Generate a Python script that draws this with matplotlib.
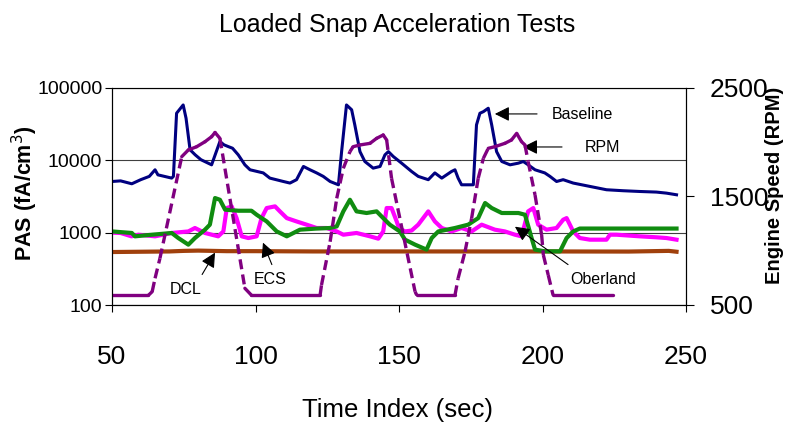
import matplotlib
matplotlib.use('Agg')
import matplotlib.pyplot as plt
from matplotlib import font_manager

# values
base_t = [50, 53, 56.9, 60, 63, 65, 66, 70.8, 71.4, 72.5, 74.8, 75.8, 77.2, 79, 81, 84.7,
          87.6, 89, 90.5, 92, 94, 96.3, 98.1, 102.7, 105, 109.7, 112, 114.3, 116.7, 119,
          121.3, 123.6, 126, 128.9, 130, 131.7, 133.5, 134.6, 136.4, 138.1, 141, 143.4,
          145.1, 146.3, 148, 150.9, 154.4, 156.7, 160.2, 162.5, 164.9, 168.3, 169.5, 170.6,
          171.8, 175.9, 177, 178.2, 179.4, 181.1, 182.3, 184, 185.8, 188.7, 191.6, 193.3,
          195, 197.4, 200.8, 202.6, 204.9, 207.2, 210.7, 216.5, 222.3, 228.1, 233.9, 239.7,
          243.2, 246.7]
base_pas = [5100, 5200, 4740, 5400, 6000, 7400, 6300, 5680, 6000, 44800, 58300, 38200, 14000,
            11900, 10200, 8670, 18200, 16400, 15500, 14700, 11900, 8670, 7400, 6700, 5680,
            5100, 4850, 5400, 8230, 7400, 6700, 6000, 5100, 4590, 13200, 58300, 50000, 30900,
            13200, 9640, 7800, 8230, 11900, 13200, 11300, 9140, 7010, 6000, 5400, 6700, 5680,
            7010, 7400, 5680, 4590, 4590, 30900, 44800, 47100, 52500, 30900, 13200, 9640,
            8670, 9140, 9640, 8670, 7400, 6700, 6000, 5100, 5400, 4850, 4360, 3920, 3800,
            3710, 3640, 3520, 3340]

ecs_t = [50, 53, 56.8, 59.2, 65, 70.8, 76.6, 78.9, 82.4, 87, 88.8, 90, 91.7, 93.4, 95.2,
         97.5, 100.4, 102.1, 103.9, 106.8, 108.5, 110.9, 114.3, 117.8, 121.3, 124.8, 128.3,
         130.6, 135.2, 139.9, 142.8, 144.5, 145.7, 147.4, 149.2, 150, 152.1, 154.4, 156.7,
         160.2, 162.5, 164.9, 168.3, 171.8, 175.3, 178.8, 183.4, 186.9, 190.4, 192.7, 195,
         196.8, 198.5, 201.4, 204.9, 207.2, 208.4, 210.7, 213, 216.5, 222.3, 223.5, 225.8,
         233.9, 239.7, 243.2, 246.7]
ecs_pas = [1000, 990, 890, 937, 890, 990, 1040, 1160, 990, 890, 1040, 2190, 2310, 1590, 890,
           843, 890, 1590, 2190, 2310, 1970, 1590, 1430, 1290, 1160, 1160, 1040, 937, 990,
           890, 826, 1040, 2190, 2190, 1430, 1150, 1040, 1070, 1290, 1970, 1430, 1160, 1040,
           1160, 1040, 1290, 1100, 1040, 937, 890, 1970, 2190, 1290, 1100, 1160, 1510, 1590,
           1040, 843, 800, 800, 937, 937, 890, 863, 843, 800]

ober_t = [50, 56.9, 58, 61.5, 70.8, 73.1, 76.6, 78.9, 82.4, 84.1, 85.9, 87.6, 89.4, 94, 98.6,
          100.4, 103.9, 107.4, 110.9, 115.5, 121.3, 125.9, 128.3, 130.6, 132.9, 135.2, 138.7,
          142.2, 144.5, 146.8, 150.3, 152.1, 155.6, 159.6, 161.4, 163.7, 169.5, 174.1, 177.6,
          180, 182.3, 185.8, 191.6, 193.9, 196.2, 197.4, 200.8, 206.1, 208.4, 210.7, 213,
          246.7]
ober_pas = [1040, 990, 890, 918, 990, 843, 683, 843, 1100, 1290, 3010, 2850, 2080, 2010, 2010,
            1770, 1430, 1040, 890, 1100, 1140, 1160, 1220, 1970, 2850, 1970, 1870, 1970, 1590,
            1290, 1040, 800, 683, 583, 843, 1040, 1160, 1290, 1590, 2570, 2190, 1870, 1870,
            1770, 843, 583, 552, 552, 843, 1040, 1140, 1140]

dcl_t = [50, 60, 70, 75, 80, 90, 100, 120, 150, 180, 200, 230, 244, 246.7]
dcl_pas = [540, 545, 550, 560, 565, 555, 555, 550, 550, 550, 550, 548, 560, 545]

rpm_t = [50, 62.7, 64, 65, 66.7, 74.3, 76.6, 79.5, 82.4, 84.7, 85.9, 87.6, 96.3, 98.6,
         122.5, 123, 126, 128.3, 130.6, 132.9, 134, 136.4, 139.9, 142.2, 144.5, 145.7, 147.4,
         155.6, 156.2, 169.5, 170.6, 173, 175.3, 177.6, 179.4, 181.1, 183.4, 186.9, 189.2,
         191, 192.7, 193.9, 195, 197.4, 199.7, 200.3, 202, 203.7, 224.6]
rpm = [590, 590, 623, 746, 930, 1867, 1929, 1959, 2005, 2051, 2090, 2036, 654, 590,
       590, 684, 1083, 1483, 1760, 1913, 1959, 1975, 1990, 2036, 2067, 2021, 1668,
       623, 590, 590, 746, 991, 1299, 1668, 1852, 1944, 1959, 1990, 2021,
       2082, 2005, 1975, 1821, 1514, 1145, 961, 776, 590, 590]

x_ticks = [50, 100, 150, 200, 250]
pas_ticks = [100, 1000, 10000, 100000]
rpm_ticks = [500, 1500, 2500]

narrow = 'Liberation Sans Narrow'
try:
    font_manager.findfont(narrow, fallback_to_default=False)
except ValueError:
    narrow = 'Liberation Sans'

navy = '#000080'
purple = '#800080'
magenta = '#FF00FF'
green = '#108C10'
brown = '#A0400C'

fig = plt.figure(figsize=(7.95, 4.43), dpi=100)
fig.subplots_adjust(left=112/795, right=686/795, top=1-88/443, bottom=1-305/443)
ax = fig.add_subplot(111)

ax.plot(dcl_t, dcl_pas, color=brown, lw=3.0, zorder=3)
ax.plot(ecs_t, ecs_pas, color=magenta, lw=3.0, zorder=4)
ax.plot(ober_t, ober_pas, color=green, lw=3.0, zorder=5)
ax.plot(base_t, base_pas, color=navy, lw=2.2, zorder=6)

ax.set_yscale('log')
ax.set_ylim(100, 100000)
ax.set_xlim(50, 250)
ax.set_xticks(x_ticks)
ax.set_xticklabels([str(v) for v in x_ticks], fontsize=19, family=narrow)
ax.set_yticks(pas_ticks)
ax.set_yticklabels([str(v) for v in pas_ticks], fontsize=14, family=narrow)
ax.minorticks_off()
ax.tick_params(axis='x', direction='out', length=5, width=0.8, pad=24)
ax.tick_params(axis='y', direction='out', length=5, width=0.8, pad=2)
ax.grid(axis='y', color='#404040', lw=0.8)
ax.set_axisbelow(True)
ax.spines['top'].set_color('#909090')
for s in ['left', 'bottom', 'right']:
    ax.spines[s].set_color('black')

ax2 = ax.twinx()
ax2.set_ylim(500, 2500)
ax2.set_xlim(50, 250)
ax2.set_yticks(rpm_ticks)
ax2.set_yticklabels([str(v) for v in rpm_ticks], fontsize=19, family=narrow)
ax2.tick_params(axis='y', direction='out', length=6, width=0.8, pad=11)
ax2.spines['right'].set_color('black')

# Excel style: steep segments show the dash pattern, short flat ones look solid
for i in range(len(rpm_t) - 1):
    p0 = ax2.transData.transform((rpm_t[i], rpm[i]))
    p1 = ax2.transData.transform((rpm_t[i + 1], rpm[i + 1]))
    steep = abs(p1[1] - p0[1]) > 1.5 * abs(p1[0] - p0[0])
    ax2.plot(rpm_t[i:i + 2], rpm[i:i + 2], color=purple, lw=2.4,
             ls=(0, (3, 1.6)) if steep else '-',
             solid_capstyle='round', dash_capstyle='butt')

arrow = dict(arrowstyle='-|>', color='black', lw=0.8, mutation_scale=22, shrinkA=0, shrinkB=0)
ax.annotate('', xy=(183.4, 43800), xytext=(198.1, 43800), arrowprops=arrow, zorder=10)
ax.text(203.3, 42400, 'Baseline', fontsize=11.5, family=narrow, ha='left', va='center')
ax.annotate('', xy=(193.2, 15300), xytext=(206.8, 15300), arrowprops=arrow, zorder=10)
ax.text(214.8, 14900, 'RPM', fontsize=11.5, family=narrow, ha='left', va='center')
ax.annotate('', xy=(190.4, 1210), xytext=(208.9, 362), arrowprops=arrow, zorder=10)
ax.text(209.6, 225, 'Oberland', fontsize=11.5, family=narrow, ha='left', va='center')
ax.annotate('', xy=(85.9, 530), xytext=(81.4, 264), arrowprops=arrow, zorder=10)
ax.text(75.8, 164, 'DCL', fontsize=11.5, family=narrow, ha='center', va='center')
ax.annotate('', xy=(102.6, 728), xytext=(105.7, 362), arrowprops=arrow, zorder=10)
ax.text(105, 225, 'ECS', fontsize=11.5, family=narrow, ha='center', va='center')

fig.text(0.5, 1 - 32/443, 'Loaded Snap Acceleration Tests', fontsize=18, family=narrow,
         ha='center', va='baseline')
fig.text(0.5, 1 - 410/443, 'Time Index (sec)', fontsize=18.5, family=narrow,
         ha='center', va='center')
fig.text(25/795, 1 - 193/443, 'PAS (fA/cm$^3$)', fontsize=15.5, fontweight='bold',
         family='Liberation Sans', rotation=90, ha='center', va='center')
fig.text(775/795, 1 - 185/443, 'Engine Speed (RPM)', fontsize=14.5, fontweight='bold',
         family='Liberation Sans', rotation=90, ha='center', va='center')

fig.savefig('out.png', dpi=100, facecolor='white')
